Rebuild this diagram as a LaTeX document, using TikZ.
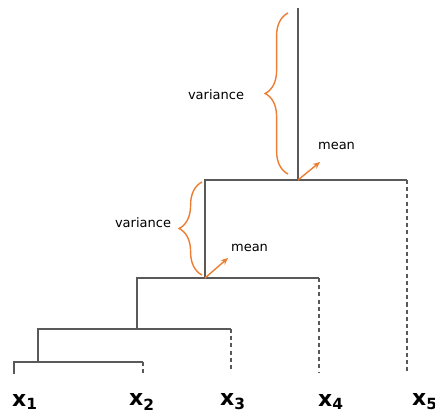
\documentclass[tikz,border=0pt]{standalone}
\usepackage{fontspec}
\setmainfont{DejaVu Sans}
\usetikzlibrary{decorations.pathreplacing,arrows.meta}
\definecolor{treeGray}{RGB}{89,89,89}
\definecolor{braceOrange}{RGB}{237,125,49}
\tikzset{
  branch/.style={draw=treeGray,line width=0.9pt},
  stub/.style={draw=treeGray,line width=0.9pt,dash pattern=on 2.3pt off 1.8pt},
  varBrace/.style={draw=braceOrange,line width=0.8pt,decorate,decoration={brace,amplitude=#1,aspect=0.5}},
  meanArrow/.style={draw=braceOrange,line width=0.8pt,-{Stealth[length=4pt,width=3.5pt]}},
  leaf/.style={inner sep=0pt,font=\fontsize{12.5}{14}\selectfont\bfseries},
  note/.style={inner sep=1pt,font=\fontsize{7.4}{9}\selectfont}
}
\newcommand{\Leaf}[1]{x\textsubscript{#1}}

\begin{document}
\begin{tikzpicture}[x=0.02cm,y=-0.02cm]
\useasboundingbox (0,0) rectangle (435,416);
% ends of the leaves
\coordinate (e1) at (14,374);
\coordinate (e2) at (143,374);
\coordinate (e3) at (231,369);
\coordinate (e4) at (319,372);
\coordinate (e5) at (407,372);
% merge points
\coordinate (j1) at (38,362);
\coordinate (j2) at (137,329);
\coordinate (j3) at (205,278);
\coordinate (j4) at (298,180);
\coordinate (root) at (298,8);

\draw[branch] (e1) |- (j1) -- (j1 -| e2);
\draw[stub] (j1 -| e2) -- (e2);
\draw[branch] (j1) |- (j2) -- (j2 -| e3);
\draw[stub] (j2 -| e3) -- (e3);
\draw[branch] (j2) |- (j3) -- (j3 -| e4);
\draw[stub] (j3 -| e4) -- (e4);
\draw[branch] (j3) |- (j4) -- (j4 -| e5);
\draw[stub] (j4 -| e5) -- (e5);
\draw[branch] (j4) -- (root);

\node[leaf] (x1) at (25,402) {\Leaf{1}};
\node[leaf] (x2) at (142,402) {\Leaf{2}};
\node[leaf] (x3) at (233,402) {\Leaf{3}};
\node[leaf] (x4) at (331,402) {\Leaf{4}};
\node[leaf] (x5) at (425,402) {\Leaf{5}};

% upper split
\coordinate (b1lo) at (288,174);
\coordinate (b1hi) at (288,13);
\draw[varBrace=13pt] (b1lo) -- (b1hi);
\node[note] (var1) at (216,95) {variance};
\coordinate (m1) at (320,162);
\draw[meanArrow] (j4) -- (m1);
\node[note,anchor=south west] (mean1) at (316,152) {mean};

% lower split
\coordinate (b2lo) at (202,275);
\coordinate (b2hi) at (202,182);
\draw[varBrace=13pt] (b2lo) -- (b2hi);
\node[note] (var2) at (143,223) {variance};
\coordinate (m2) at (228,258);
\draw[meanArrow] (j3) -- (m2);
\node[note,anchor=south west] (mean2) at (229,254) {mean};
\end{tikzpicture}
\end{document}
